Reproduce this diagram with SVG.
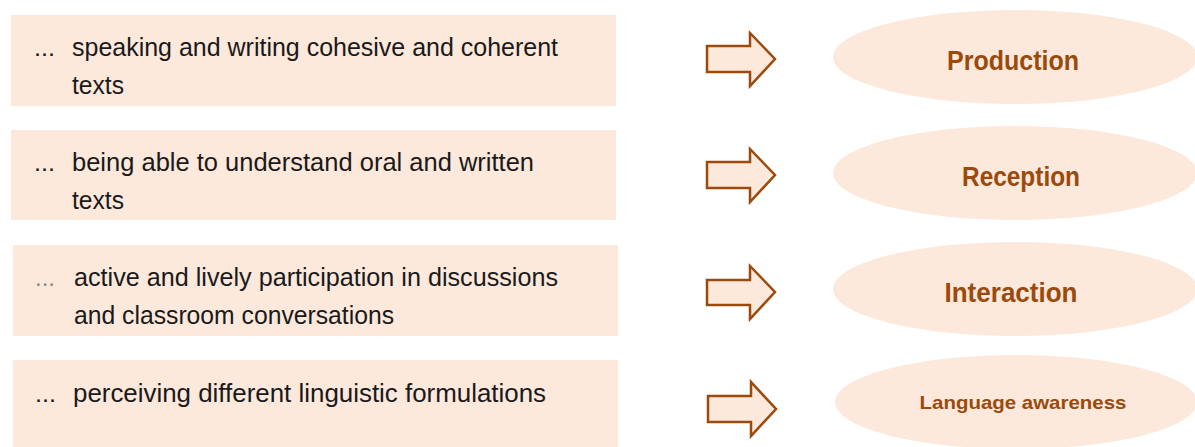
<svg xmlns="http://www.w3.org/2000/svg" width="1195" height="447" viewBox="0 0 1195 447">
<style>
.box{fill:#fde8dc}
.t{font-family:"Liberation Sans",Arial,sans-serif;font-size:25px;fill:#1a1a1a}
.dots{font-family:"Liberation Sans",Arial,sans-serif;font-size:24px;fill:#1a1a1a}
.dl{fill:#8a8a8a}
.ell{fill:#fde8dc}
.lbl{font-family:"Liberation Sans",Arial,sans-serif;font-weight:bold;font-size:27px;fill:#9b4a0c;text-anchor:middle}
.arr{fill:#fde8dc;stroke:#9b4a0c;stroke-width:2.5;stroke-linejoin:miter}
</style>
<rect width="1195" height="447" fill="#ffffff"/>
<g id="item1">
<rect class="box" x="11" y="15" width="605" height="91"/>
<text class="dots" x="34" y="56" textLength="21" lengthAdjust="spacingAndGlyphs">...</text>
<text class="t" x="72" y="56" textLength="486" lengthAdjust="spacingAndGlyphs">speaking and writing cohesive and coherent</text>
<text class="t" x="72" y="94" textLength="52" lengthAdjust="spacingAndGlyphs">texts</text>
</g>
<g id="item2">
<rect class="box" x="11" y="130" width="605" height="90"/>
<text class="dots" x="34" y="171" textLength="21" lengthAdjust="spacingAndGlyphs">...</text>
<text class="t" x="72" y="171" textLength="462" lengthAdjust="spacingAndGlyphs">being able to understand oral and written</text>
<text class="t" x="72" y="209" textLength="52" lengthAdjust="spacingAndGlyphs">texts</text>
</g>
<g id="item3">
<rect class="box" x="13" y="245" width="605" height="91"/>
<text class="dots dl" x="35" y="286" textLength="20" lengthAdjust="spacingAndGlyphs">...</text>
<text class="t" x="74" y="286" textLength="484" lengthAdjust="spacingAndGlyphs">active and lively participation in discussions</text>
<text class="t" x="74" y="324" textLength="320" lengthAdjust="spacingAndGlyphs">and classroom conversations</text>
</g>
<g id="item4">
<rect class="box" x="13" y="360" width="605" height="87"/>
<text class="dots" x="35" y="402" textLength="21" lengthAdjust="spacingAndGlyphs">...</text>
<text class="t" x="73" y="402" textLength="473" lengthAdjust="spacingAndGlyphs">perceiving different linguistic formulations</text>
</g>
<g id="connectors">
<polygon class="arr" points="707,46 750,46 750,33 775,59 750,86 750,72 707,72"/>
<polygon class="arr" points="707,162 750,162 750,149 775,175 750,202 750,188 707,188"/>
<polygon class="arr" points="707,280 750,280 750,266 775,292 750,319 750,305 707,305"/>
<polygon class="arr" points="708,396 751,396 751,382 776,409 751,436 751,422 708,422"/>
</g>
<g id="production">
<ellipse class="ell" cx="1015" cy="57" rx="182" ry="47"/>
<text class="lbl" x="1013" y="70" textLength="132" lengthAdjust="spacingAndGlyphs">Production</text>
</g>
<g id="reception">
<ellipse class="ell" cx="1015" cy="173" rx="182" ry="47"/>
<text class="lbl" x="1021" y="186" textLength="118" lengthAdjust="spacingAndGlyphs">Reception</text>
</g>
<g id="interaction">
<ellipse class="ell" cx="1015" cy="289" rx="182" ry="47"/>
<text class="lbl" x="1011" y="302" textLength="133" lengthAdjust="spacingAndGlyphs">Interaction</text>
</g>
<g id="language-awareness">
<ellipse class="ell" cx="1016" cy="402" rx="181" ry="47"/>
<text class="lbl" x="1023" y="409" style="font-size:19px" textLength="207" lengthAdjust="spacingAndGlyphs">Language awareness</text>
</g>
</svg>
